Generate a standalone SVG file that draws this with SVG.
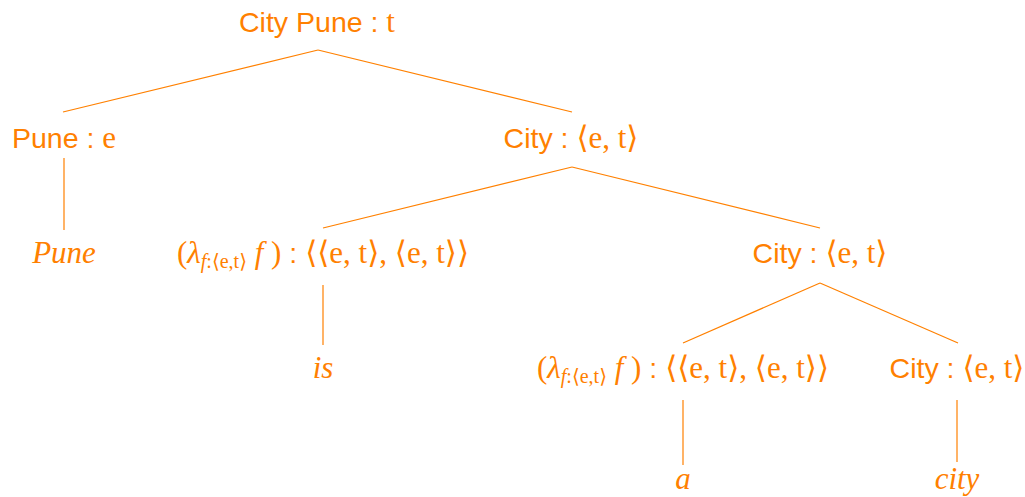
<svg xmlns="http://www.w3.org/2000/svg" width="1025" height="497" viewBox="0 0 1025 497">
<style>
.t{fill:#ff8000;text-anchor:middle;font-size:31px}
.s{font-family:"Liberation Sans",Arial,sans-serif;font-size:28.5px}
.m{font-family:"Liberation Serif","DejaVu Serif",serif}
.i{font-family:"Liberation Serif","DejaVu Serif",serif;font-style:italic}
.sub{font-size:20px}
line{stroke:#ff8000;stroke-width:1.2}
</style>
<rect width="1025" height="497" fill="#fff"/>
<g id="connectors">
<line x1="318" y1="50" x2="63" y2="112"/>
<line x1="318" y1="50" x2="572" y2="112"/>
<line x1="64" y1="158" x2="64" y2="230"/>
<line x1="572" y1="167" x2="323" y2="228"/>
<line x1="572" y1="167" x2="820" y2="228"/>
<line x1="323" y1="285" x2="323" y2="345"/>
<line x1="820" y1="283" x2="683" y2="343"/>
<line x1="820" y1="283" x2="958" y2="343"/>
<line x1="683" y1="400" x2="683" y2="465"/>
<line x1="957" y1="400" x2="957" y2="462"/>
</g>
<g id="root"><text class="t" x="317" y="32"><tspan class="s">City Pune : </tspan><tspan class="m">t</tspan></text></g>
<g id="pune-e"><text class="t" x="64" y="148"><tspan class="s">Pune : </tspan><tspan class="m">e</tspan></text></g>
<g id="pune-word"><text class="t i" x="64" y="263">Pune</text></g>
<g id="city1"><text class="t" x="571" y="148"><tspan class="s">City : </tspan><tspan class="m">⟨e, t⟩</tspan></text></g>
<g id="lambda1"><text class="t m" x="323" y="263">(<tspan class="i">λ</tspan><tspan class="sub" dy="5"><tspan class="i">f</tspan>:⟨e,t⟩</tspan><tspan dy="-5">  </tspan><tspan class="i">f</tspan> )<tspan class="s"> : </tspan>⟨⟨e, t⟩, ⟨e, t⟩⟩</text></g>
<g id="is"><text class="t i" x="323" y="378">is</text></g>
<g id="city2"><text class="t" x="820" y="263"><tspan class="s">City : </tspan><tspan class="m">⟨e, t⟩</tspan></text></g>
<g id="lambda2"><text class="t m" x="683" y="378">(<tspan class="i">λ</tspan><tspan class="sub" dy="5"><tspan class="i">f</tspan>:⟨e,t⟩</tspan><tspan dy="-5">  </tspan><tspan class="i">f</tspan> )<tspan class="s"> : </tspan>⟨⟨e, t⟩, ⟨e, t⟩⟩</text></g>
<g id="city3"><text class="t" x="957" y="378"><tspan class="s">City : </tspan><tspan class="m">⟨e, t⟩</tspan></text></g>
<g id="a"><text class="t i" x="683" y="489">a</text></g>
<g id="city-word"><text class="t i" x="957" y="489">city</text></g>
</svg>
